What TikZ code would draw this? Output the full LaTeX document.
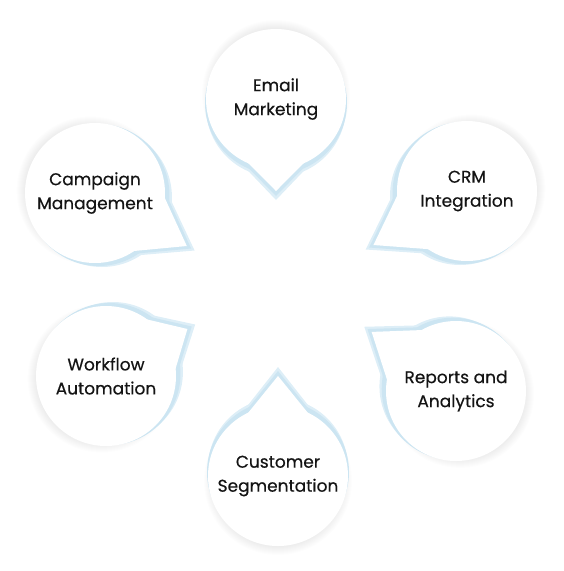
\documentclass[tikz,border=0pt]{standalone}
\usepackage{fontspec}
\setmainfont{Poppins}
\newfontfamily\bubblefont{Poppins}[FakeBold=0.4]
\usetikzlibrary{calc}
\definecolor{glowblue}{HTML}{DDEEF7}
\definecolor{glowedge}{HTML}{CCE5F2}
\definecolor{inktext}{HTML}{141414}
\tikzset{
  bubble/.style={circle, minimum size=140pt, inner sep=0pt, align=center, text=inktext, font=\bubblefont\fontsize{17}{24}\selectfont},
  glow/.style={fill=glowblue},
  haze/.style={fill=black, opacity=0.008}
}
\begin{document}
\begin{tikzpicture}[x=1pt, y=-1pt, line join=round]
  \useasboundingbox (0,0) rectangle (564,571);
  \foreach \nm/\cx/\cy/\ang/\tl/\lbl in {
      email/276/99/90/92/{Email\\Marketing},
      crm/467/191/150/108/{CRM\\Integration},
      reports/456/391/215/103/{Reports and\\Analytics},
      customer/278/476/270/100/{Customer\\Segmentation},
      workflow/106/376/-30/94/{Workflow\\Automation},
      campaign/95/193/30/106/{Campaign\\Management}}{
    \coordinate (\nm-c) at (\cx,\cy);
    % soft grey shadow on the outer side
    \foreach \k in {1,...,9}
      \fill[haze] ($(\nm-c)+(\ang+180:5)$) circle ({65+\k});
    % blue glow towards the middle
    \fill[glow] ($(\nm-c)+(\ang:8)$) circle (70);
    \fill[glow] ($(\nm-c)+(\ang:8)+(\ang+33:66)$) -- ($(\nm-c)+(\ang:\tl+9)$) -- ($(\nm-c)+(\ang:8)+(\ang-33:66)$) -- cycle;
    \fill[glowedge] ($(\nm-c)+(\ang:4)$) circle (71);
    \fill[glowedge] ($(\nm-c)+(\ang:4)+(\ang+32:67)$) -- ($(\nm-c)+(\ang:\tl+5)$) -- ($(\nm-c)+(\ang:4)+(\ang-32:67)$) -- cycle;
    % white bubble with its tail
    \fill[white] ($(\nm-c)+(\ang+31:67)$) -- ($(\nm-c)+(\ang:\tl)$) -- ($(\nm-c)+(\ang-31:67)$) -- cycle;
    \node[bubble, fill=white] (\nm) at (\nm-c) {\lbl};
  }
\end{tikzpicture}
\end{document}
